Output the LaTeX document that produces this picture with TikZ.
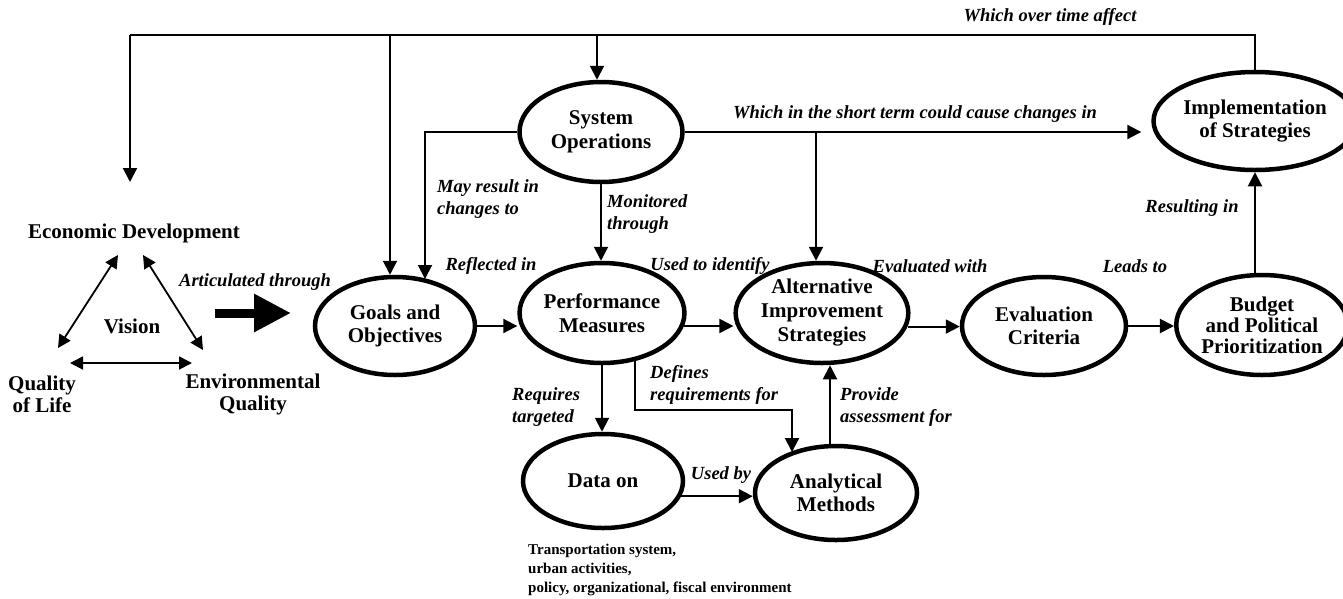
\documentclass[tikz,border=0pt]{standalone}
\usepackage{fontspec}
\setmainfont{Liberation Serif}
\usetikzlibrary{arrows.meta,shapes.geometric}

\begin{document}
\begin{tikzpicture}[x=1pt,y=-1pt,
  oval/.style={ellipse,draw,line width=4.5pt,inner sep=0pt,align=center,
    font=\fontsize{21}{23.5}\selectfont\bfseries},
  term/.style={inner sep=0pt,align=center,font=\fontsize{21}{22}\selectfont\bfseries},
  lbl/.style={inner sep=0pt,font=\fontsize{18.5}{21.5}\selectfont\bfseries\itshape},
  note/.style={inner sep=0pt,align=left,font=\fontsize{15}{19}\selectfont\bfseries},
  conn/.style={line width=2pt},
  arr/.style={conn,-{Triangle[length=14pt,width=14pt]}},
  dbl/.style={line width=1.8pt,{Triangle[length=13pt,width=13pt]}-{Triangle[length=13pt,width=13pt]}}
]
\useasboundingbox (0,0) rectangle (1343,598);

% vision triangle
\node[term] (econ) at (134,233) {Economic Development};
\node[term] (vision) at (132,326) {Vision};
\node[term] (qol) at (42,394) {Quality\\of Life};
\node[term] (env) at (253,394) {Environmental\\Quality};
\coordinate (ea) at (118,255); \coordinate (qa) at (58,348);
\coordinate (eb) at (143,255); \coordinate (vb) at (203,350);
\coordinate (qc) at (70,363);  \coordinate (vc) at (192,363);
\draw[dbl] (ea) -- (qa);
\draw[dbl] (eb) -- (vb);
\draw[dbl] (qc) -- (vc);

% process ovals
\node[oval,minimum width=160pt,minimum height=98pt] (goals) at (395,326) {Goals and\\Objectives};
\node[oval,minimum width=163pt,minimum height=100pt] (sysop) at (601,132) {System\\Operations};
\node[oval,minimum width=162pt,minimum height=100pt] (perf) at (602,313) {Performance\\Measures};
\node[oval,minimum width=160pt,minimum height=94pt] (data) at (603,481) {Data on};
\node[oval,minimum width=162pt,minimum height=100pt,font=\fontsize{21}{24}\selectfont\bfseries] (alt) at (822,313) {Alternative\\Improvement\\Strategies};
\node[oval,minimum width=162pt,minimum height=94pt] (anal) at (836,493) {Analytical\\Methods};
\node[oval,minimum width=164pt,minimum height=98pt] (eval) at (1044,326) {Evaluation\\Criteria};
\node[oval,minimum width=160pt,minimum height=100pt,font=\fontsize{21}{21}\selectfont\bfseries] (budget) at (1262,325) {Budget\\and Political\\Prioritization};
\node[oval,minimum width=174pt,minimum height=98pt] (impl) at (1255,121) {Implementation\\of Strategies};

\node[note,anchor=north west] (datanote) at (528,544) {Transportation system,\\urban activities,\\policy, organizational, fiscal environment};

% articulated through
\coordinate (ta) at (215,313); \coordinate (tb) at (291,313);
\draw[line width=9pt,-{Triangle[length=37pt,width=36pt]}] (ta) -- (tb);
\node[lbl] (artic) at (255,282) {Articulated through};

% feedback loop along the top
\coordinate (fl) at (130,35);
\coordinate (fe) at (130,182);
\coordinate (j1) at (390,35);
\coordinate (j2) at (597,35);
\draw[conn] (impl.north) |- (fl);
\draw[arr] (fl) -- (fe);
\draw[arr] (j1) -- (j1 |- goals.north);
\draw[arr] (j2) -- (j2 |- sysop.north);
\node[lbl] (overtime) at (1050,17) {Which over time affect};

% system operations links
\coordinate (g2) at (425,279);
\draw[arr] (sysop.west) -| (g2);
\node[lbl,anchor=west,align=left] (mayres) at (437,199) {May result in\\changes to};
\draw[arr] (sysop.south) -- (sysop.south |- perf.north);
\node[lbl,anchor=west,align=left] (monit) at (607,214) {Monitored\\through};
\draw[arr,shorten >=10pt] (sysop.east) -- (sysop.east -| impl.west);
\node[lbl] (short) at (915,114) {Which in the short term could cause changes in};
\coordinate (b2) at (816,133);
\draw[arr] (b2) -- (b2 |- alt.north);

% main chain
\draw[arr] (goals.east) -- (goals.east -| perf.west);
\node[lbl] (refl) at (491,266) {Reflected in};
\draw[arr] (perf.-9) -- (perf.-9 -| alt.west);
\node[lbl] (usedid) at (710,266) {Used to identify};
\draw[arr] (alt.-9) -- (alt.-9 -| eval.west);
\node[lbl] (evalw) at (930,266) {Evaluated with};
\draw[arr] (eval.east) -- (eval.east -| budget.west);
\node[lbl] (leads) at (1135,266) {Leads to};
\draw[arr] (impl.south |- budget.north) -- (impl.south);
\node[lbl] (result) at (1192,208) {Resulting in};

% data and analysis
\draw[arr] (perf.south) -- (perf.south |- data.north);
\node[lbl,anchor=west,align=left] (req) at (512,407) {Requires\\targeted};
\coordinate (dq) at (792,410);
\coordinate (dend) at (792,452);
\draw[arr] (perf.-56) |- (dq) -- (dend);
\node[lbl,anchor=west,align=left] (defs) at (650,385) {Defines\\requirements for};
\draw[arr] (data.-11) -- (data.-11 -| anal.west);
\node[lbl] (usedby) at (721,475) {Used by};
\coordinate (pa) at (830,447);
\draw[arr] (pa) -- (pa |- alt.south);
\node[lbl,anchor=west,align=left] (prov) at (840,407) {Provide\\assessment for};
\end{tikzpicture}
\end{document}
